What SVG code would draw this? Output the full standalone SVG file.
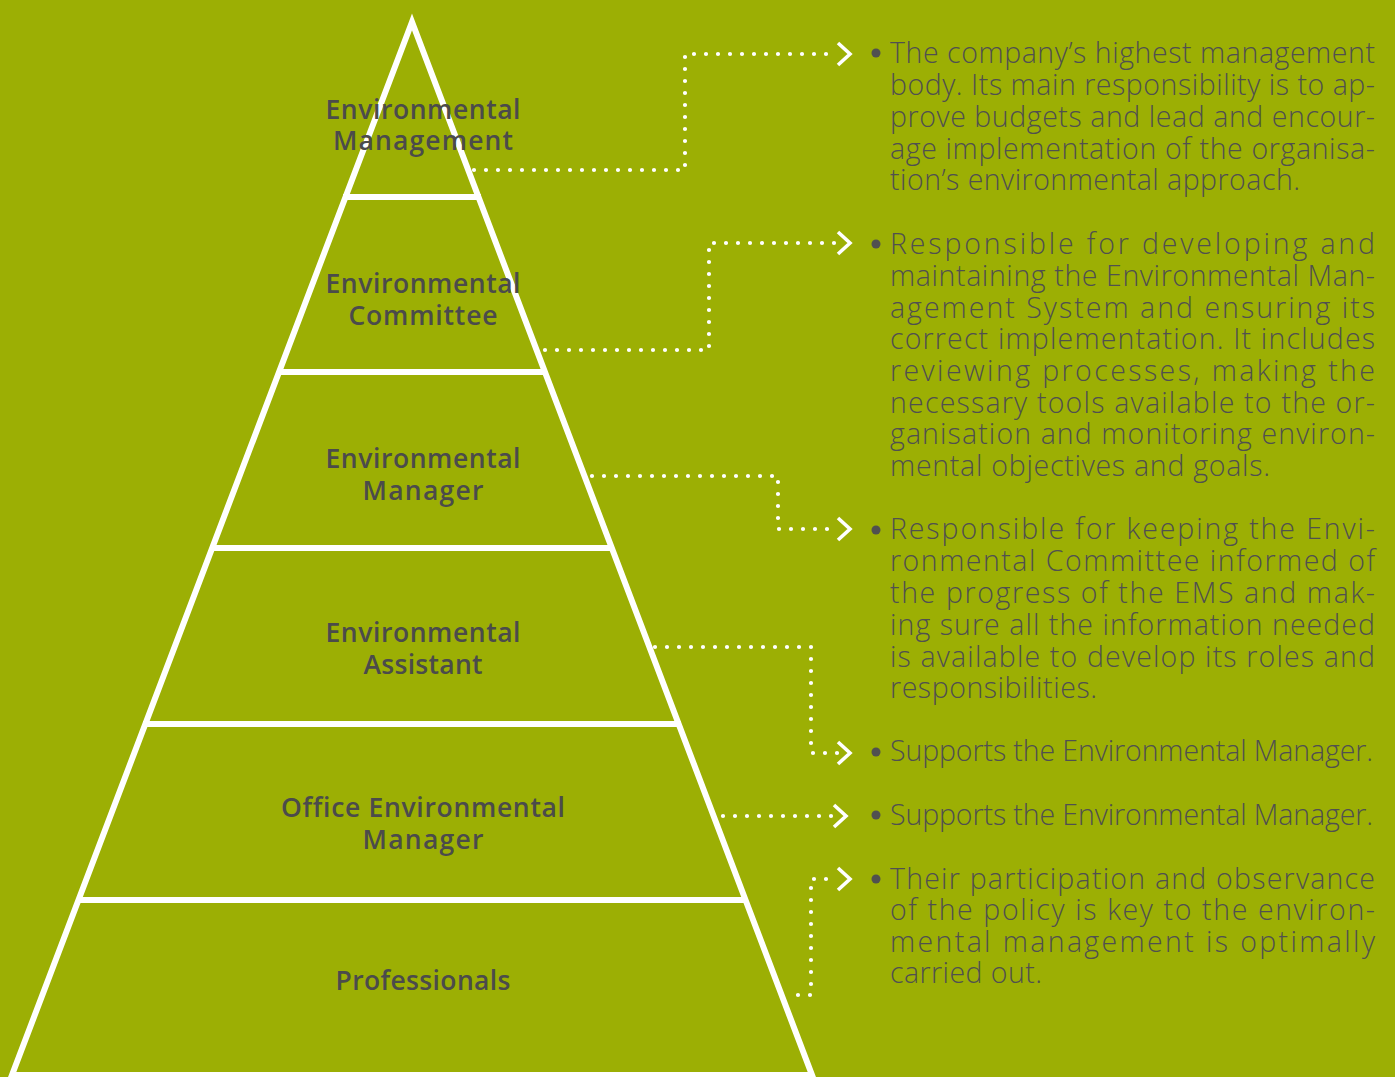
<svg xmlns="http://www.w3.org/2000/svg" width="1395" height="1077" viewBox="0 0 1395 1077">
<style>
.bg{fill:#9caf04}
.edge{fill:none;stroke:#ffffff;stroke-width:6;stroke-linejoin:miter}
.lbl{font-family:"Open Sans","Noto Sans","Liberation Sans",sans-serif;font-weight:600;font-size:26.5px;fill:#4b4b4b;text-anchor:middle;font-variant-ligatures:none}
.desc{font-family:"Open Sans","Noto Sans","Liberation Sans",sans-serif;font-weight:300;font-size:28.5px;fill:#505050;font-variant-ligatures:none}
.dot{fill:none;stroke:#ffffff;stroke-width:4.2;stroke-linecap:round;stroke-dasharray:0 12}
.chev{fill:none;stroke:#ffffff;stroke-width:3.6;stroke-linecap:butt;stroke-linejoin:miter}
.bul{fill:#505050}
</style>
<rect class="bg" x="0" y="0" width="1395" height="1077"/>
<g id="pyramid">
<polygon class="edge" points="412,22 12,1075 812,1075"/>
<line class="edge" x1="343" y1="197" x2="481" y2="197"/>
<line class="edge" x1="277" y1="372" x2="547" y2="372"/>
<line class="edge" x1="210" y1="548" x2="614" y2="548"/>
<line class="edge" x1="143" y1="724" x2="681" y2="724"/>
<line class="edge" x1="77" y1="900" x2="747" y2="900"/>
</g>
<g id="tier-environmental-management">
<text class="lbl" x="423" y="119" textLength="195" lengthAdjust="spacing">Environmental</text>
<text class="lbl" x="423" y="150" textLength="180" lengthAdjust="spacing">Management</text>
</g>
<g id="tier-environmental-committee">
<text class="lbl" x="423" y="293" textLength="195" lengthAdjust="spacing">Environmental</text>
<text class="lbl" x="423" y="325" textLength="149" lengthAdjust="spacing">Committee</text>
</g>
<g id="tier-environmental-manager">
<text class="lbl" x="423" y="468" textLength="195" lengthAdjust="spacing">Environmental</text>
<text class="lbl" x="423" y="500" textLength="121" lengthAdjust="spacing">Manager</text>
</g>
<g id="tier-environmental-assistant">
<text class="lbl" x="423" y="642" textLength="195" lengthAdjust="spacing">Environmental</text>
<text class="lbl" x="423" y="674" textLength="119" lengthAdjust="spacing">Assistant</text>
</g>
<g id="tier-office-environmental-manager">
<text class="lbl" x="423" y="817" textLength="284" lengthAdjust="spacing">Office Environmental</text>
<text class="lbl" x="423" y="849" textLength="121" lengthAdjust="spacing">Manager</text>
</g>
<g id="tier-professionals">
<text class="lbl" x="423" y="990" textLength="175" lengthAdjust="spacing">Professionals</text>
</g>
<g id="connectors">
<polyline class="dot" points="474,170 685,170 685,54 838,54"/>
<polyline class="chev" points="838,43 850,54 838,65"/>
<polyline class="dot" points="545,350 709,350 709,243 838,243"/>
<polyline class="chev" points="838,232 850,243 838,254"/>
<polyline class="dot" points="592,476 778,476 778,529 838,529"/>
<polyline class="chev" points="838,518 850,529 838,540"/>
<polyline class="dot" points="655,647 811,647 811,753 838,753"/>
<polyline class="chev" points="838,742 850,753 838,764"/>
<polyline class="dot" points="723,816 834,816"/>
<polyline class="chev" points="834,805 846,816 834,827"/>
<polyline class="dot" points="798,995 811,995 811,879 838,879"/>
<polyline class="chev" points="838,868 850,879 838,890"/>
</g>
<g id="desc-management">
<circle class="bul" cx="876" cy="53" r="4.5"/>
<text class="desc">
<tspan x="890" y="63" textLength="485" lengthAdjust="spacing">The company’s highest management</tspan>
<tspan x="890" y="95" textLength="485" lengthAdjust="spacing">body. Its main responsibility is to ap-</tspan>
<tspan x="890" y="127" textLength="485" lengthAdjust="spacing">prove budgets and lead and encour-</tspan>
<tspan x="890" y="159" textLength="485" lengthAdjust="spacing">age implementation of the organisa-</tspan>
<tspan x="890" y="190" textLength="410" lengthAdjust="spacing">tion’s environmental approach.</tspan>
</text>
</g>
<g id="desc-committee">
<circle class="bul" cx="876" cy="244" r="4.5"/>
<text class="desc">
<tspan x="890" y="254" textLength="485" lengthAdjust="spacing">Responsible for developing and</tspan>
<tspan x="890" y="286" textLength="485" lengthAdjust="spacing">maintaining the Environmental Man-</tspan>
<tspan x="890" y="318" textLength="485" lengthAdjust="spacing">agement System and ensuring its</tspan>
<tspan x="890" y="349" textLength="485" lengthAdjust="spacing">correct implementation. It includes</tspan>
<tspan x="890" y="381" textLength="485" lengthAdjust="spacing">reviewing processes, making the</tspan>
<tspan x="890" y="413" textLength="485" lengthAdjust="spacing">necessary tools available to the or-</tspan>
<tspan x="890" y="444" textLength="485" lengthAdjust="spacing">ganisation and monitoring environ-</tspan>
<tspan x="890" y="476" textLength="380" lengthAdjust="spacing">mental objectives and goals.</tspan>
</text>
</g>
<g id="desc-manager">
<circle class="bul" cx="876" cy="530" r="4.5"/>
<text class="desc">
<tspan x="890" y="539" textLength="485" lengthAdjust="spacing">Responsible for keeping the Envi-</tspan>
<tspan x="890" y="571" textLength="485" lengthAdjust="spacing">ronmental Committee informed of</tspan>
<tspan x="890" y="603" textLength="485" lengthAdjust="spacing">the progress of the EMS and mak-</tspan>
<tspan x="890" y="635" textLength="485" lengthAdjust="spacing">ing sure all the information needed</tspan>
<tspan x="890" y="667" textLength="485" lengthAdjust="spacing">is available to develop its roles and</tspan>
<tspan x="890" y="698" textLength="207" lengthAdjust="spacing">responsibilities.</tspan>
</text>
</g>
<g id="desc-assistant">
<circle class="bul" cx="876" cy="752" r="4.5"/>
<text class="desc" x="890" y="761" textLength="483" lengthAdjust="spacing">Supports the Environmental Manager.</text>
</g>
<g id="desc-office-manager">
<circle class="bul" cx="876" cy="815" r="4.5"/>
<text class="desc" x="890" y="825" textLength="483" lengthAdjust="spacing">Supports the Environmental Manager.</text>
</g>
<g id="desc-professionals">
<circle class="bul" cx="876" cy="879" r="4.5"/>
<text class="desc">
<tspan x="890" y="889" textLength="485" lengthAdjust="spacing">Their participation and observance</tspan>
<tspan x="890" y="920" textLength="485" lengthAdjust="spacing">of the policy is key to the environ-</tspan>
<tspan x="890" y="952" textLength="485" lengthAdjust="spacing">mental management is optimally</tspan>
<tspan x="890" y="983" textLength="152" lengthAdjust="spacing">carried out.</tspan>
</text>
</g>
</svg>
